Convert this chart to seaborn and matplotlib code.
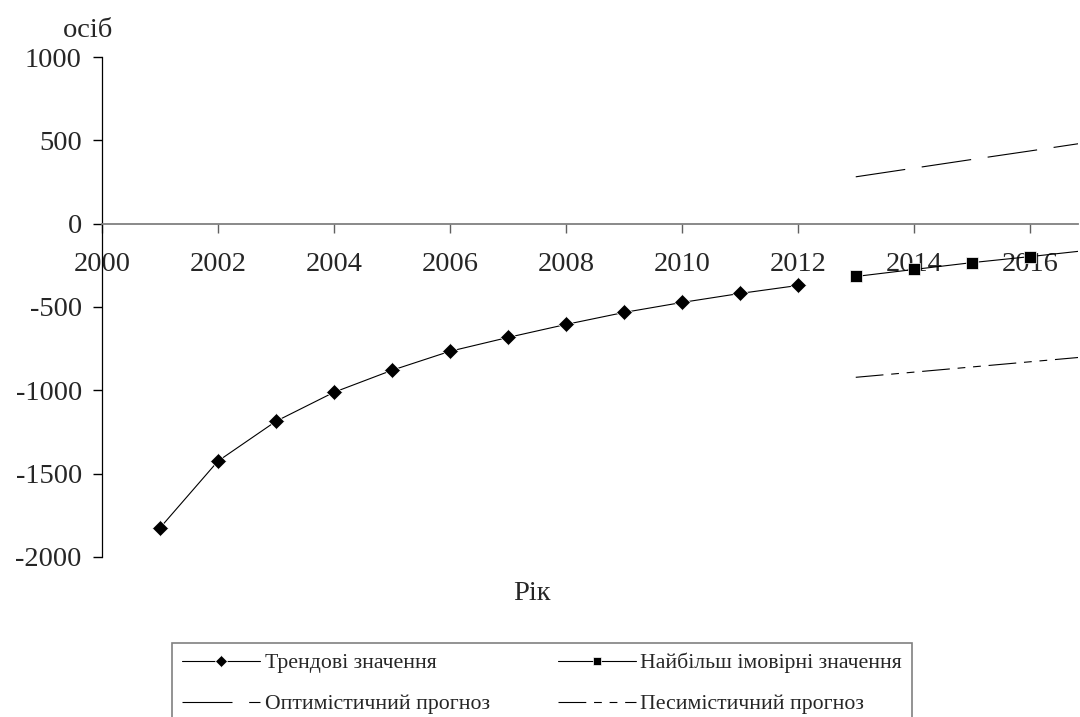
import pandas as pd
import seaborn as sns
import matplotlib.pyplot as plt

# Data
trend_years = [2001, 2002, 2003, 2004, 2005, 2006, 2007, 2008, 2009, 2010, 2011, 2012]
trend_values = [-1826, -1425, -1186, -1012, -880, -766, -683, -605, -533, -473, -419, -371]

forecast_years = [2013, 2014, 2015, 2016, 2017]
likely_values = [-317, -275, -234, -198, -160]
optimistic_values = [281, 333, 385, 436, 488]
pessimistic_values = [-922, -891, -860, -829, -798]

x_ticks = [2000, 2002, 2004, 2006, 2008, 2010, 2012, 2014, 2016]
y_ticks = [-2000, -1500, -1000, -500, 0, 500, 1000]

trend = pd.DataFrame({'year': trend_years, 'value': trend_values})
forecast = pd.DataFrame({'year': forecast_years, 'likely': likely_values,
                         'optimistic': optimistic_values, 'pessimistic': pessimistic_values})

sns.set_style('white')
plt.rcParams['font.family'] = ['Liberation Serif', 'DejaVu Serif']
plt.rcParams['axes.unicode_minus'] = False

fig = plt.figure(figsize=(10.8, 7.17), dpi=100)
ax = fig.add_axes([0.0944, 0.2232, 0.9036, 0.6973])

sns.lineplot(x='year', y='value', data=trend, ax=ax, color='black', linewidth=0.8,
             marker='D', markersize=8, markeredgewidth=0.5, label='Трендові значення')
sns.lineplot(x='year', y='likely', data=forecast, ax=ax, color='black', linewidth=0.8,
             marker='s', markersize=8, markeredgewidth=0.5, label='Найбільш імовірні значення')
sns.lineplot(x='year', y='optimistic', data=forecast, ax=ax, color='black', linewidth=0.8,
             linestyle=(0, (45, 15)), label='Оптимістичний прогноз')
sns.lineplot(x='year', y='pessimistic', data=forecast, ax=ax, color='black', linewidth=0.8,
             linestyle=(0, (25, 7, 7, 7, 7, 7)), label='Песимістичний прогноз')

ax.set_xlim(2000, 2016.83)
ax.set_ylim(-2000, 1000)
ax.set_xticks(x_ticks)
ax.set_yticks(y_ticks)
ax.set_xlabel('')
ax.set_ylabel('')

ax.spines['top'].set_visible(False)
ax.spines['right'].set_visible(False)
ax.spines['bottom'].set_position(('data', 0))
ax.spines['bottom'].set_color('#808080')
ax.spines['bottom'].set_linewidth(1.3)
ax.spines['left'].set_color('black')
ax.spines['left'].set_linewidth(0.9)

ax.tick_params(axis='x', bottom=True, direction='out', length=6.5, width=1, color='#606060',
               labelsize=20.5, pad=14)
ax.tick_params(axis='y', left=True, direction='out', length=6.5, width=1, color='black',
               labelsize=20.5, pad=8)

fig.text(88 / 1080, 1 - 37 / 717, 'осіб', ha='center', va='baseline', fontsize=20.5)
fig.text(532 / 1080, 1 - 600 / 717, 'Рік', ha='center', va='baseline', fontsize=20.5)

# legend rows: trend / likely on top, optimistic / pessimistic below
ax.get_legend().remove()
handles, labels = ax.get_legend_handles_labels()
order = [0, 2, 1, 3]
leg = fig.legend([handles[i] for i in order], [labels[i] for i in order],
                 loc='upper left', ncol=2, mode='expand',
                 bbox_to_anchor=(172 / 1080, -0.2, 740 / 1080, 1 - 643 / 717 + 0.2),
                 fontsize=15.7, frameon=True, fancybox=False, edgecolor='#606060',
                 handlelength=3.6, handletextpad=0.2, labelspacing=0.95,
                 borderaxespad=0, borderpad=0.45, markerscale=0.8, columnspacing=1.0)
leg.get_frame().set_linewidth(1.2)
leg.get_frame().set_height(200)

fig.savefig('out.png', dpi=100)
